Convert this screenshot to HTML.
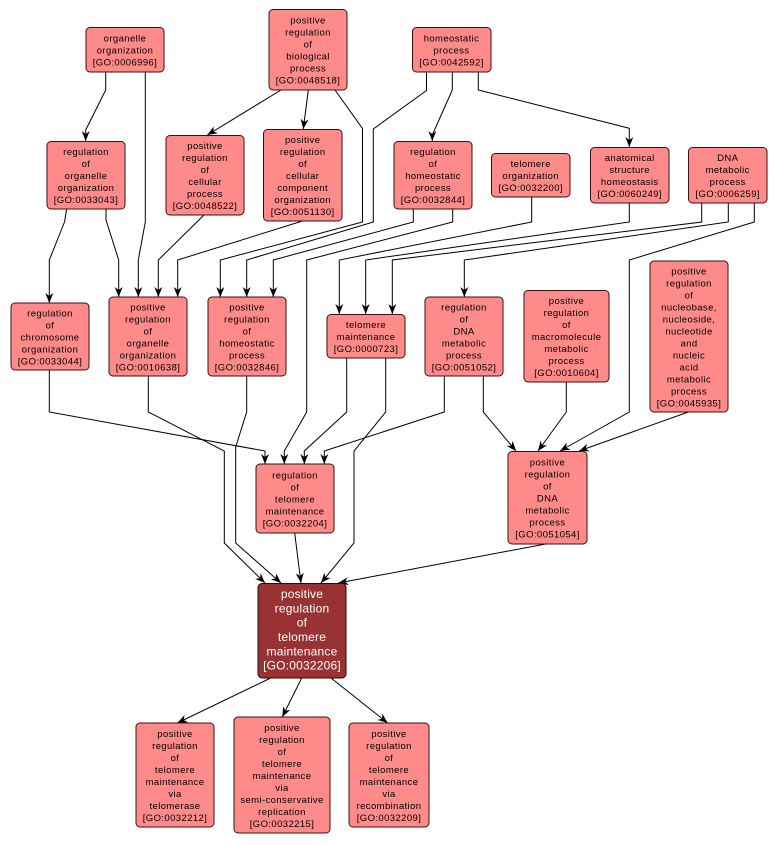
<!DOCTYPE html>
<html><head><meta charset="utf-8"><style>
html,body{margin:0;padding:0;background:#fff;}
svg{display:block;}
text{font-family:"Liberation Sans",Arial,sans-serif;font-size:9.5px;letter-spacing:0.4px;fill:#000;text-anchor:middle;}
text.w{fill:#fff;font-size:12px;letter-spacing:0.2px;}
rect.n{fill:#ff8a8a;stroke:#3a1010;stroke-width:1;}
rect.d{fill:#993333;stroke:#2a0808;stroke-width:1;}
polyline{fill:none;stroke:#000;stroke-width:1;marker-end:url(#ah);}
</style></head><body>
<svg width="778" height="845" viewBox="0 0 778 845" xmlns="http://www.w3.org/2000/svg">
<defs>
<marker id="ah" viewBox="0 0 10 8" refX="10" refY="4" markerWidth="10" markerHeight="8" markerUnits="userSpaceOnUse" orient="auto">
<path d="M0,0 L10,4 L0,8 L3,4 Z" fill="#000"/>
</marker>
</defs>

<!-- edges -->
<polyline points="105.7,72 105.7,90 85.7,130 85.7,141"/>
<polyline points="145.3,72 145.3,222 138.3,260 138.3,297"/>
<polyline points="281,90 207.3,135"/>
<polyline points="308.3,90 303.3,129"/>
<polyline points="335,90 362.5,128.5 362.5,222 220.3,260 220.3,297"/>
<polyline points="426.5,72 426.5,90.5 373.3,129 373.3,222 246.7,260 246.7,297"/>
<polyline points="452.3,72 452.3,90 432.3,135 432.3,141"/>
<polyline points="478.3,72 478.3,90 629.3,128.3 629.3,147"/>
<polyline points="66.7,209 64.5,222 49.3,260 49.3,303"/>
<polyline points="106,209 106,220 118.7,260 118.7,297"/>
<polyline points="204,215 158.3,260 158.3,297"/>
<polyline points="302.5,221 177.7,260 177.7,297"/>
<polyline points="413.3,209 413.3,222 273.3,260 273.3,297"/>
<polyline points="452.7,209 452.7,222 306.7,260 306.7,412 284.3,451 284.3,464"/>
<polyline points="531.7,197 531.7,222 339.3,260 339.3,314"/>
<polyline points="629.3,203 629.3,222 365.7,260 365.7,314"/>
<polyline points="701.7,203 701.7,222 392.3,260 392.3,314"/>
<polyline points="728.3,203 728.3,222 464.3,260 464.3,297"/>
<polyline points="754.3,203 754.3,222 629.3,260 629.3,412 560,451"/>
<polyline points="49.3,370 49.3,412 265,451 265,464"/>
<polyline points="148.3,376 148.3,412 224.3,451 224.3,543 265,583"/>
<polyline points="246.7,376 246.7,412 235.7,447 235.7,543 281,583"/>
<polyline points="346.7,358 346.7,412 304.3,451 304.3,464"/>
<polyline points="385.7,358 385.7,412 354,451 354,543 321,583"/>
<polyline points="444.3,376 444.3,412 324.3,451 324.3,464"/>
<polyline points="483.3,376 483.3,412 516,451"/>
<polyline points="566.3,382 566.3,412 538,451"/>
<polyline points="688.3,412 579,451"/>
<polyline points="294.7,533 301,583"/>
<polyline points="545.7,544 338.3,583"/>
<polyline points="270.7,678 177.3,723"/>
<polyline points="301.7,678 282.3,717"/>
<polyline points="331,678 387.7,723"/>

<!-- nodes -->
<rect class="n" x="86" y="27.5" width="78" height="44.5" rx="4"/>
<text x="125" y="41.5">organelle</text><text x="125" y="53.5">organization</text><text x="125" y="65.5">[GO:0006996]</text>

<rect class="n" x="269" y="9.5" width="78" height="80.5" rx="4"/>
<text x="308" y="23.5">positive</text><text x="308" y="35.5">regulation</text><text x="308" y="47.5">of</text><text x="308" y="59.5">biological</text><text x="308" y="71.5">process</text><text x="308" y="83.5">[GO:0048518]</text>

<rect class="n" x="412.5" y="27.5" width="78.5" height="44.5" rx="4"/>
<text x="451.5" y="41.5">homeostatic</text><text x="451.5" y="53.5">process</text><text x="451.5" y="65.5">[GO:0042592]</text>

<rect class="n" x="47" y="141.5" width="78" height="67.5" rx="4"/>
<text x="86" y="155">regulation</text><text x="86" y="167">of</text><text x="86" y="179">organelle</text><text x="86" y="191">organization</text><text x="86" y="203">[GO:0033043]</text>

<rect class="n" x="166" y="135.5" width="78" height="79.5" rx="4"/>
<text x="205" y="149">positive</text><text x="205" y="161">regulation</text><text x="205" y="173">of</text><text x="205" y="185">cellular</text><text x="205" y="197">process</text><text x="205" y="209">[GO:0048522]</text>

<rect class="n" x="263.5" y="129.5" width="78.5" height="91.5" rx="4"/>
<text x="302.7" y="143">positive</text><text x="302.7" y="155">regulation</text><text x="302.7" y="167">of</text><text x="302.7" y="179">cellular</text><text x="302.7" y="191">component</text><text x="302.7" y="203">organization</text><text x="302.7" y="215">[GO:0051130]</text>

<rect class="n" x="394" y="141.5" width="78" height="67.5" rx="4"/>
<text x="433" y="155">regulation</text><text x="433" y="167">of</text><text x="433" y="179">homeostatic</text><text x="433" y="191">process</text><text x="433" y="203">[GO:0032844]</text>

<rect class="n" x="491.5" y="153.5" width="78.5" height="43.5" rx="4"/>
<text x="530.7" y="167">telomere</text><text x="530.7" y="179">organization</text><text x="530.7" y="191">[GO:0032200]</text>

<rect class="n" x="590.5" y="147.5" width="78.5" height="55.5" rx="4"/>
<text x="629.7" y="161">anatomical</text><text x="629.7" y="173">structure</text><text x="629.7" y="185">homeostasis</text><text x="629.7" y="197">[GO:0060249]</text>

<rect class="n" x="688.5" y="147.5" width="78.5" height="55.5" rx="4"/>
<text x="727.7" y="161">DNA</text><text x="727.7" y="173">metabolic</text><text x="727.7" y="185">process</text><text x="727.7" y="197">[GO:0006259]</text>

<rect class="n" x="11" y="303" width="78" height="67" rx="4"/>
<text x="50" y="316.5">regulation</text><text x="50" y="328.5">of</text><text x="50" y="340.5">chromosome</text><text x="50" y="352.5">organization</text><text x="50" y="364.5">[GO:0033044]</text>

<rect class="n" x="109" y="297" width="78" height="79" rx="4"/>
<text x="148" y="310.5">positive</text><text x="148" y="322.5">regulation</text><text x="148" y="334.5">of</text><text x="148" y="346.5">organelle</text><text x="148" y="358.5">organization</text><text x="148" y="370.5">[GO:0010638]</text>

<rect class="n" x="208" y="297" width="78" height="79" rx="4"/>
<text x="247" y="310.5">positive</text><text x="247" y="322.5">regulation</text><text x="247" y="334.5">of</text><text x="247" y="346.5">homeostatic</text><text x="247" y="358.5">process</text><text x="247" y="370.5">[GO:0032846]</text>

<rect class="n" x="327" y="314.5" width="78" height="43.5" rx="4"/>
<text x="366" y="328">telomere</text><text x="366" y="340">maintenance</text><text x="366" y="352">[GO:0000723]</text>

<rect class="n" x="425" y="297" width="78" height="79" rx="4"/>
<text x="464" y="310.5">regulation</text><text x="464" y="322.5">of</text><text x="464" y="334.5">DNA</text><text x="464" y="346.5">metabolic</text><text x="464" y="358.5">process</text><text x="464" y="370.5">[GO:0051052]</text>

<rect class="n" x="524" y="290.5" width="85" height="91.5" rx="4"/>
<text x="566.5" y="304">positive</text><text x="566.5" y="316">regulation</text><text x="566.5" y="328">of</text><text x="566.5" y="340">macromolecule</text><text x="566.5" y="352">metabolic</text><text x="566.5" y="364">process</text><text x="566.5" y="376">[GO:0010604]</text>

<rect class="n" x="650" y="261" width="78" height="151" rx="4"/>
<text x="689" y="274.5">positive</text><text x="689" y="286.5">regulation</text><text x="689" y="298.5">of</text><text x="689" y="310.5">nucleobase,</text><text x="689" y="322.5">nucleoside,</text><text x="689" y="334.5">nucleotide</text><text x="689" y="346.5">and</text><text x="689" y="358.5">nucleic</text><text x="689" y="370.5">acid</text><text x="689" y="382.5">metabolic</text><text x="689" y="394.5">process</text><text x="689" y="406.5">[GO:0045935]</text>

<rect class="n" x="256" y="464" width="78" height="69" rx="4"/>
<text x="295" y="478.5">regulation</text><text x="295" y="490.5">of</text><text x="295" y="502.5">telomere</text><text x="295" y="514.5">maintenance</text><text x="295" y="526.5">[GO:0032204]</text>

<rect class="n" x="508" y="451.5" width="79" height="92.5" rx="4"/>
<text x="547.5" y="465.5">positive</text><text x="547.5" y="477.5">regulation</text><text x="547.5" y="489.5">of</text><text x="547.5" y="501.5">DNA</text><text x="547.5" y="513.5">metabolic</text><text x="547.5" y="525.5">process</text><text x="547.5" y="537.5">[GO:0051054]</text>

<rect class="d" x="258" y="583.5" width="88" height="94.5" rx="4"/>
<text class="w" x="302" y="598">positive</text><text class="w" x="302" y="612.4">regulation</text><text class="w" x="302" y="626.7">of</text><text class="w" x="302" y="641">telomere</text><text class="w" x="302" y="655.3">maintenance</text><text class="w" x="302" y="669.6">[GO:0032206]</text>

<rect class="n" x="136" y="723" width="78" height="104" rx="4"/>
<text x="175" y="737">positive</text><text x="175" y="749">regulation</text><text x="175" y="761">of</text><text x="175" y="773">telomere</text><text x="175" y="785">maintenance</text><text x="175" y="797">via</text><text x="175" y="809">telomerase</text><text x="175" y="821">[GO:0032212]</text>

<rect class="n" x="234" y="717" width="96" height="116" rx="4"/>
<text x="282" y="731">positive</text><text x="282" y="743">regulation</text><text x="282" y="755">of</text><text x="282" y="767">telomere</text><text x="282" y="779">maintenance</text><text x="282" y="791">via</text><text x="282" y="803">semi-conservative</text><text x="282" y="815">replication</text><text x="282" y="827">[GO:0032215]</text>

<rect class="n" x="349" y="723" width="80" height="104" rx="4"/>
<text x="389" y="737">positive</text><text x="389" y="749">regulation</text><text x="389" y="761">of</text><text x="389" y="773">telomere</text><text x="389" y="785">maintenance</text><text x="389" y="797">via</text><text x="389" y="809">recombination</text><text x="389" y="821">[GO:0032209]</text>
</svg>
</body></html>
